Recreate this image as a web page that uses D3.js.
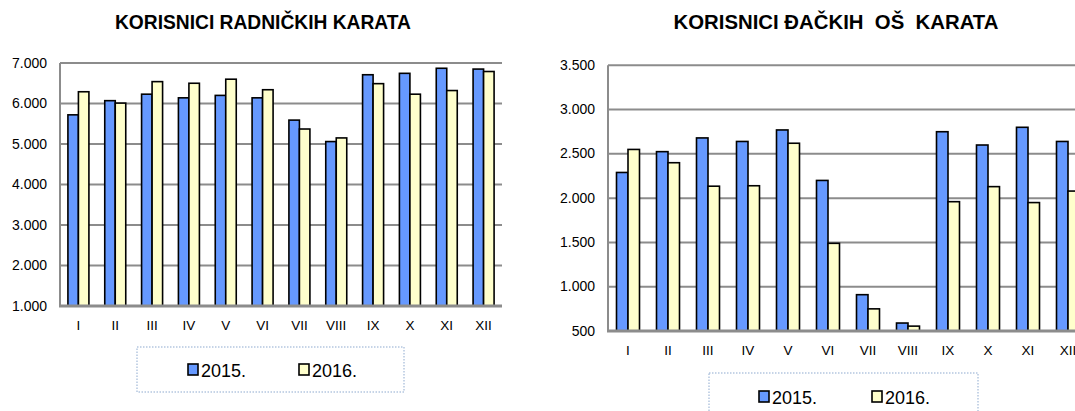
<!DOCTYPE html>
<html>
<head>
<meta charset="utf-8">
<script src="https://cdn.jsdelivr.net/npm/d3@7"></script>
<style>
  body { margin: 0; background: #fff; }
  svg { font-family: "Liberation Sans", Arial, sans-serif; }
  .grid line { stroke: #8c8c8c; stroke-width: 2px; }
  .bar { stroke: #000; stroke-width: 1.6px; }
</style>
</head>
<body>
<svg id="chart" width="1075" height="411"></svg>
<script>
// data
var months = ["I", "II", "III", "IV", "V", "VI", "VII", "VIII", "IX", "X", "XI", "XII"];
var years = ["2015.", "2016."];
var colors = ["#6699ff", "#ffffcc"];

var radnicke2015 = [5720, 6070, 6230, 6140, 6200, 6140, 5590, 5060, 6710, 6745, 6870, 6850];
var radnicke2016 = [6290, 6010, 6540, 6500, 6600, 6340, 5370, 5150, 6490, 6230, 6320, 6790];
var ticksLeft = [1000, 2000, 3000, 4000, 5000, 6000, 7000];

var djacke2015 = [2290, 2525, 2680, 2640, 2770, 2200, 910, 590, 2750, 2600, 2800, 2640];
var djacke2016 = [2550, 2400, 2135, 2140, 2620, 1490, 750, 555, 1960, 2130, 1950, 2080];
var ticksRight = [500, 1000, 1500, 2000, 2500, 3000, 3500];

var svg = d3.select("#chart");
var fmt = function (d) { return d3.format(",")(d).replace(/,/g, "."); };

function drawChart(opt) {
    var g = svg.append("g");
    var x = d3.scaleBand().domain(months).range([opt.left, opt.right]).paddingInner(0).paddingOuter(0);
    var y = d3.scaleLinear().domain([opt.ticks[0], opt.ticks[opt.ticks.length - 1]]).range([opt.bottom, opt.top]);
    var barW = opt.barW;

    // title
    g.append("text")
        .attr("x", opt.titleX).attr("y", 28.5)
        .attr("text-anchor", "middle")
        .attr("font-size", "20px").attr("font-weight", "bold")
        .attr("xml:space", "preserve")
        .attr("textLength", opt.titleW).attr("lengthAdjust", "spacingAndGlyphs")
        .text(opt.title);

    // gridlines
    g.append("g").attr("class", "grid")
        .selectAll("line").data(opt.ticks.slice(1)).enter().append("line")
        .attr("x1", opt.left).attr("x2", opt.right)
        .attr("y1", function (d) { return y(d); }).attr("y2", function (d) { return y(d); });

    // left axis line
    g.append("line").attr("x1", opt.left).attr("x2", opt.left)
        .attr("y1", opt.top).attr("y2", opt.bottom)
        .attr("stroke", "#8c8c8c").attr("stroke-width", 2);

    // y tick labels
    g.selectAll(".ylab").data(opt.ticks).enter().append("text")
        .attr("x", opt.left - 13).attr("y", function (d) { return y(d) + 4.5; })
        .attr("text-anchor", "end").attr("font-size", "14px")
        .text(fmt);

    // bars
    var series = [opt.s1, opt.s2];
    series.forEach(function (s, k) {
        g.selectAll(".b" + k).data(s).enter().append("rect")
            .attr("class", "bar")
            .attr("x", function (d, i) { return x(months[i]) + x.bandwidth() / 2 - barW + k * barW; })
            .attr("y", function (d) { return y(d); })
            .attr("width", barW)
            .attr("height", function (d) { return opt.bottom - y(d); })
            .attr("fill", colors[k]);
    });

    // bottom axis
    g.append("line").attr("x1", opt.left - 1).attr("x2", opt.right)
        .attr("y1", opt.bottom).attr("y2", opt.bottom)
        .attr("stroke", "#8c8c8c").attr("stroke-width", 3);

    // x labels
    g.selectAll(".xlab").data(months).enter().append("text")
        .attr("x", function (d) { return x(d) + x.bandwidth() / 2; })
        .attr("y", opt.bottom + 24)
        .attr("text-anchor", "middle").attr("font-size", "13.5px")
        .text(function (d) { return d; });

    // legend
    var L = opt.legend;
    g.append("rect").attr("x", L.x).attr("y", L.y).attr("width", L.w).attr("height", L.h)
        .attr("fill", "none").attr("stroke", "#b4c6e0").attr("stroke-width", 1.5)
        .attr("stroke-dasharray", "1.5,1.5");
    years.forEach(function (yr, k) {
        var lx = L.items[k];
        g.append("rect").attr("x", lx).attr("y", L.my).attr("width", 10).attr("height", 11)
            .attr("fill", colors[k]).attr("stroke", "#000").attr("stroke-width", 1.6);
        g.append("text").attr("x", lx + 13).attr("y", L.my + 13)
            .attr("font-size", "18px").text(yr);
    });
}

drawChart({
    title: "KORISNICI RADNIČKIH KARATA", titleX: 263, titleW: 296,
    left: 60, right: 502, top: 63, bottom: 306, barW: 10.5,
    ticks: ticksLeft, s1: radnicke2015, s2: radnicke2016,
    legend: { x: 137, y: 347, w: 267, h: 45, my: 364, items: [188, 299] }
});

drawChart({
    title: "KORISNICI ĐAČKIH  OŠ  KARATA", titleX: 836, titleW: 325,
    left: 608, right: 1088, top: 65.3, bottom: 331, barW: 11.5,
    ticks: ticksRight, s1: djacke2015, s2: djacke2016,
    legend: { x: 709, y: 373, w: 269, h: 50, my: 391, items: [759, 872] }
});
</script>
</body>
</html>
